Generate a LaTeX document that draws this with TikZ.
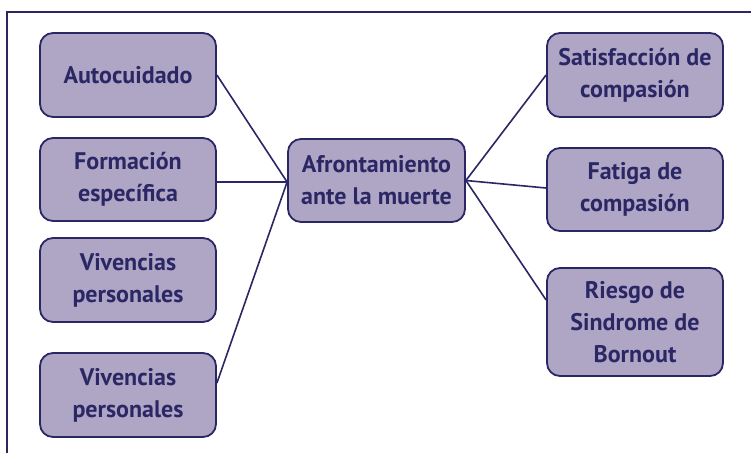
\documentclass[tikz,border=0pt]{standalone}
\usepackage{fontspec}
\setmainfont{PT Sans}[BoldFont={PT Sans Bold}]
\definecolor{navy}{HTML}{2B2765}
\definecolor{boxfill}{HTML}{AEA6C4}
\begin{document}
\begin{tikzpicture}[x=1pt,y=-1pt,
  box/.style={draw=navy, line width=1.8pt, fill=boxfill, rounded corners=13pt,
    minimum width=176pt, minimum height=84pt, inner sep=0pt, align=center,
    text=navy, font=\fontsize{24}{32}\selectfont\bfseries},
  link/.style={draw=navy, line width=1.6pt}]
\useasboundingbox (0,0) rectangle (751,453);
\fill[white] (0,0) rectangle (751,453);
\draw[navy, line width=2pt] (7.3,453) -- (7.3,11.5) -- (751,11.5);
\node[box] (a1) at (128,75) {Autocuidado};
\node[box, minimum height=83pt] (a2) at (128,179.5) {Formación\\específica};
\node[box] (a3) at (128,280) {Vivencias\\personales};
\node[box] (a4) at (128,395) {Vivencias\\personales};
\node[box, minimum width=177pt, minimum height=83pt] (c) at (376.5,180.5) {Afrontamiento\\ante la muerte};
\node[box] (r1) at (635,75) {Satisfacción de\\compasión};
\node[box, minimum height=83pt] (r2) at (635,189.5) {Fatiga de\\compasión};
\node[box, minimum height=108pt] (r3) at (635,322) {Riesgo de\\Sindrome de\\Bornout};
\draw[link] (a1.east) -- ([yshift=-1.5pt]c.west);
\draw[link] ([yshift=-2.5pt]a2.east) -- ([yshift=-1.5pt]c.west);
\draw[link] ([yshift=12pt]a4.east) -- ([yshift=-1.5pt]c.west);
\draw[link] (c.east) -- (r1.west);
\draw[link] (c.east) -- ([yshift=1.5pt]r2.west);
\draw[link] (c.east) -- ([yshift=22pt]r3.west);
\end{tikzpicture}
\end{document}
